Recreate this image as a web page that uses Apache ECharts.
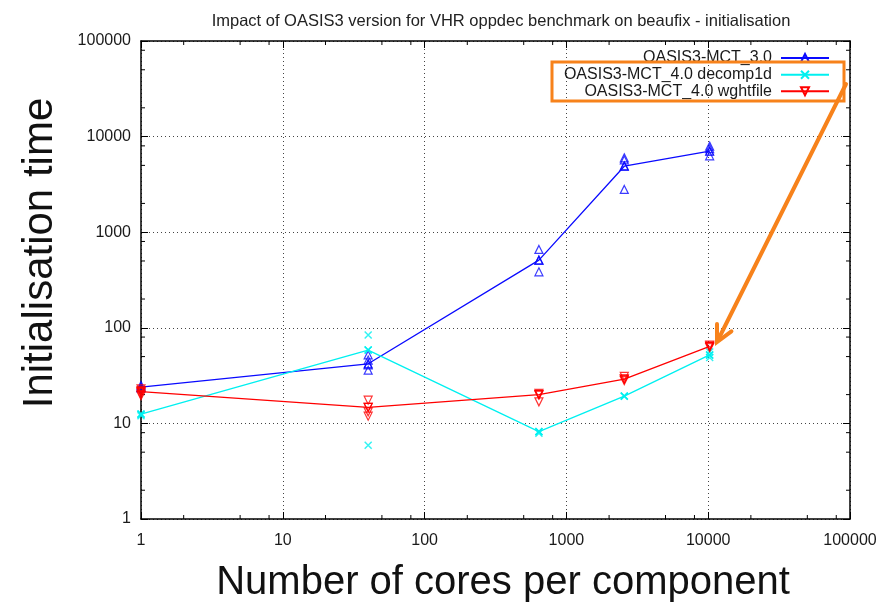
<!DOCTYPE html>
<html>
<head>
<meta charset="utf-8">
<script src="https://cdn.jsdelivr.net/npm/echarts@6/dist/echarts.min.js"></script>
<style>html,body{margin:0;padding:0;background:#fff}#c{width:894px;height:606px}</style>
</head>
<body>
<div id="c"></div>
<script>
const chartTitle = 'Impact of OASIS3 version for VHR oppdec benchmark on beaufix - initialisation';
const xAxisTitle = 'Number of cores per component';
const yAxisTitle = 'Initialisation time';
const seriesNames = ['OASIS3-MCT_3.0', 'OASIS3-MCT_4.0 decomp1d', 'OASIS3-MCT_4.0 wghtfile'];
const cores = [1, 40, 640, 2560, 10240];
const mct30Line = [24, 42, 510, 4900, 7050];
const decomp1dLine = [12.5, 58.5, 8.2, 19.3, 52];
const wghtfileLine = [21.5, 14.7, 20, 29, 64];
const mct30Runs = [[1,25],[1,23.5],[40,52],[40,46],[40,41],[40,36],[640,660],[640,510],[640,385],[2560,6000],[2560,5700],[2560,4950],[2560,2800],[10240,7950],[10240,7500],[10240,6300]];
const decomp1dRuns = [[1,12.5],[1,12],[40,84],[40,58.5],[40,5.9],[640,8.2],[640,7.9],[2560,19.3],[10240,56],[10240,52],[10240,49]];
const wghtfileRuns = [[1,23],[1,22],[1,21],[1,20],[1,19.5],[40,17.5],[40,14.7],[40,13.2],[40,11.9],[640,20.6],[640,19.8],[640,16.8],[2560,31],[2560,29],[2560,28],[10240,66],[10240,64],[10240,62]];
const axisMin = 1, axisMax = 100000;
const minorTickValues = [2,5,8,20,50,80,200,500,800,2000,5000,8000,20000,50000,80000];

const colors = ['#0a0aff', '#00f0f0', '#ff0000'];
const symbols = ['triangle', 'path://M0,0 L10,10 M10,0 L0,10', 'triangle'];
const rotations = [0, 0, 180];
const lineData = [mct30Line, decomp1dLine, wghtfileLine];
const runData = [mct30Runs, decomp1dRuns, wghtfileRuns];
const FONT = '"Liberation Sans", Arial, Helvetica, sans-serif';

const chart = echarts.init(document.getElementById('c'), null, {renderer: 'canvas'});

function markStyle(i) {
  return {
    color: i === 1 ? colors[i] : 'rgba(255,255,255,0)',
    borderColor: colors[i],
    borderWidth: i === 1 ? 1.5 : 1.2
  };
}

const series = [];
for (let i = 0; i < 3; i++) {
  series.push({
    name: seriesNames[i],
    type: 'line',
    data: cores.map((c, k) => [c, lineData[i][k]]),
    symbol: symbols[i],
    symbolRotate: rotations[i],
    symbolSize: i === 1 ? 7 : 8,
    showAllSymbol: true,
    lineStyle: {color: colors[i], width: 1.3},
    itemStyle: markStyle(i),
    emphasis: {disabled: true},
    animation: false,
    z: 3 + i
  });
  series.push({
    name: seriesNames[i] + ' runs',
    type: 'scatter',
    data: runData[i],
    symbol: symbols[i],
    symbolRotate: rotations[i],
    symbolSize: i === 1 ? 7 : 8,
    itemStyle: markStyle(i),
    emphasis: {disabled: true},
    animation: false,
    z: 3 + i
  });
}

function tickLines(points) {
  return {type: 'group', children: points.map(p => ({
    type: 'line', shape: {x1: p[0], y1: p[1], x2: p[2], y2: p[3]},
    style: {stroke: '#000', lineWidth: 1}
  }))};
}

series.push({
  type: 'custom', name: 'xminor', silent: true, animation: false, z: 2,
  data: minorTickValues.map(v => [v, axisMin]),
  renderItem: function (params, api) {
    const b = api.coord([api.value(0), axisMin]);
    const t = api.coord([api.value(0), axisMax]);
    return tickLines([[b[0], b[1], b[0], b[1] - 4], [t[0], t[1], t[0], t[1] + 4]]);
  }
});
series.push({
  type: 'custom', name: 'yminor', silent: true, animation: false, z: 2,
  data: minorTickValues.map(v => [axisMin, v]),
  renderItem: function (params, api) {
    const l = api.coord([axisMin, api.value(1)]);
    const r = api.coord([axisMax, api.value(1)]);
    return tickLines([[l[0], l[1], l[0] + 4, l[1]], [r[0], r[1], r[0] - 4, r[1]]]);
  }
});

const gridLine = {show: true, lineStyle: {color: '#444', width: 1, type: [1, 3]}};
const axisLineStyle = {show: true, lineStyle: {color: '#000', width: 1.5}};
const labelStyle = {fontFamily: FONT, fontSize: 16, color: '#1a1a1a'};

const legendRows = [55, 71.7, 88.3];
const legends = seriesNames.map((n, i) => ({
  data: [n],
  orient: 'vertical',
  right: 64,
  top: legendRows[i] - 5,
  padding: 0,
  align: 'right',
  itemWidth: 48,
  itemHeight: 10,
  selectedMode: false,
  textStyle: {fontFamily: FONT, fontSize: 16, color: '#1a1a1a', padding: [0, 4, 0, 0]}
}));

const option = {
  backgroundColor: '#fff',
  animation: false,
  title: {
    text: chartTitle,
    left: 496,
    top: 8,
    textAlign: 'center',
    textStyle: {fontFamily: FONT, fontSize: 16.5, fontWeight: 'normal', color: '#222'}
  },
  legend: legends,
  grid: {left: 141, right: 44, top: 41, bottom: 87, containLabel: false},
  xAxis: [{
    type: 'log', logBase: 10, min: axisMin, max: axisMax,
    axisLine: axisLineStyle,
    axisTick: {show: true, inside: true, length: 7, lineStyle: {color: '#000'}},
    axisLabel: Object.assign({margin: 14, formatter: v => String(Math.round(v))}, labelStyle),
    splitLine: gridLine, minorTick: {show: false}
  }, {
    type: 'log', logBase: 10, min: axisMin, max: axisMax, position: 'top',
    axisLine: axisLineStyle,
    axisTick: {show: true, inside: true, length: 7, lineStyle: {color: '#000'}},
    axisLabel: {show: false}, splitLine: {show: false}
  }],
  yAxis: [{
    type: 'log', logBase: 10, min: axisMin, max: axisMax,
    axisLine: axisLineStyle,
    axisTick: {show: true, inside: true, length: 7, lineStyle: {color: '#000'}},
    axisLabel: Object.assign({margin: 10, formatter: v => String(Math.round(v))}, labelStyle),
    splitLine: gridLine
  }, {
    type: 'log', logBase: 10, min: axisMin, max: axisMax, position: 'right',
    axisLine: axisLineStyle,
    axisTick: {show: true, inside: true, length: 7, lineStyle: {color: '#000'}},
    axisLabel: {show: false}, splitLine: {show: false}
  }],
  series: series,
  graphic: [{
    type: 'text', z: 100,
    x: 503, y: 583,
    style: {text: xAxisTitle, fontFamily: FONT, fontSize: 40, fill: '#111', align: 'center', verticalAlign: 'middle'}
  }, {
    type: 'text', z: 100,
    x: 40, y: 253, rotation: Math.PI / 2,
    style: {text: yAxisTitle, fontFamily: FONT, fontSize: 42, fill: '#111', align: 'center', verticalAlign: 'middle'}
  }, {
    type: 'rect', z: 100,
    shape: {x: 552, y: 62, width: 292, height: 39},
    style: {fill: 'none', stroke: '#f7821b', lineWidth: 3}
  }, {
    type: 'line', z: 100,
    shape: {x1: 846, y1: 84, x2: 718, y2: 340},
    style: {stroke: '#f7821b', lineWidth: 4, lineCap: 'round'}
  }, {
    type: 'polyline', z: 100,
    shape: {points: [[731.4, 331.3], [717, 342], [717, 324.1]]},
    style: {stroke: '#f7821b', lineWidth: 4, fill: 'none', lineCap: 'round', lineJoin: 'miter'}
  }]
};
chart.setOption(option);
</script>
</body>
</html>
